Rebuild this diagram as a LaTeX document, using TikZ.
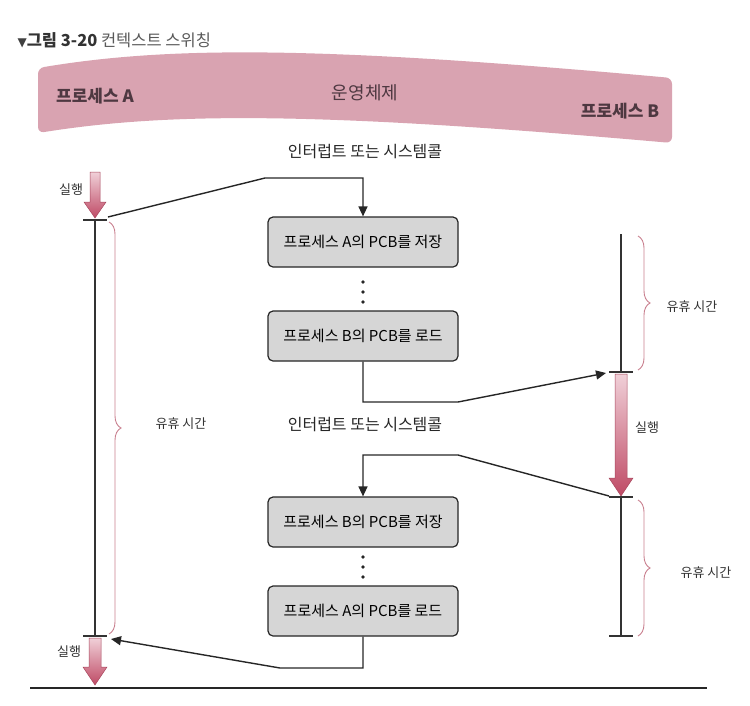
\documentclass[tikz,border=0pt]{standalone}
\usepackage{fontspec}
\setmainfont{Noto Sans CJK KR}
\newfontfamily\symfont{DejaVu Sans}
\usetikzlibrary{arrows.meta,decorations.pathreplacing,calc}
\definecolor{bannerpink}{HTML}{D9A3B1}
\definecolor{bannertext}{HTML}{4E3841}
\definecolor{bracepink}{HTML}{C9808F}
\definecolor{boxgray}{HTML}{D6D6D6}
\definecolor{arrowlight}{HTML}{F0D0D8}
\definecolor{arrowdark}{HTML}{BF4A65}
\definecolor{arrowedge}{HTML}{A8485E}
\definecolor{linegray}{HTML}{333333}
\begin{document}
\begin{tikzpicture}[x=1pt,y=-1pt,
  procbox/.style={draw=black!85, line width=1.2pt, fill=boxgray, rounded corners=5pt,
    minimum width=190pt, minimum height=50pt, inner sep=0pt, font=\fontsize{15}{17}\selectfont},
  conn/.style={line width=1.4pt, draw=black!85},
  connarrow/.style={conn, -{Triangle[width=9pt,length=10pt]}},
  timeline/.style={line width=2.6pt, draw=linegray},
  tickmark/.style={line width=1.6pt, draw=linegray},
  pbrace/.style={draw=bracepink, line width=0.9pt, decorate, decoration={brace, amplitude=12pt}},
  small/.style={font=\fontsize{13}{15}\selectfont, text=black!80},
  heading/.style={font=\fontsize{16}{18}\selectfont, text=black!85},
  bannerlabel/.style={font=\fontsize{17}{19}\selectfont\bfseries, text=bannertext},
  runarrow/.style={top color=arrowlight, bottom color=arrowdark, draw=arrowedge, line width=0.5pt},
  dot/.style={fill=black!85, circle, inner sep=0pt, minimum size=3.6pt},
]
\useasboundingbox (0,0) rectangle (750,705);

% title
\node[anchor=west, font=\fontsize{16.5}{18}\selectfont] (title) at (14,40)
  {{\symfont\fontsize{12}{12}\selectfont\color{black!75}▼}{\bfseries\color{black!80}그림 3-20}\ {\color{black!65}컨텍스트 스위칭}};

% banner
\fill[bannerpink, rounded corners=6pt] (38,68) .. controls (170,46) and (320,46) .. (672,78)
  -- (672,143) .. controls (320,112) and (170,112) .. (38,133) -- cycle;
\node[bannerlabel] (pA) at (95,96) {프로세스 A};
\node[font=\fontsize{18}{20}\selectfont, text=bannertext] (os) at (365,93) {운영체제};
\node[bannerlabel] (pB) at (620,111) {프로세스 B};

% headings
\node[heading] (int1) at (365,152) {인터럽트 또는 시스템콜};
\node[heading] (int2) at (365,425) {인터럽트 또는 시스템콜};

% boxes
\node[procbox] (b1) at (363,242) {프로세스 A의 PCB를 저장};
\node[procbox] (b2) at (363,336) {프로세스 B의 PCB를 로드};
\node[procbox] (b3) at (363,522) {프로세스 B의 PCB를 저장};
\node[procbox] (b4) at (363,611) {프로세스 A의 PCB를 로드};

\node[dot] (d1) at (363,282) {};
\node[dot] (d2) at (363,292) {};
\node[dot] (d3) at (363,302) {};
\node[dot] (d4) at (363,557) {};
\node[dot] (d5) at (363,567) {};
\node[dot] (d6) at (363,577) {};

% process A timeline
\coordinate (aTop) at (95,220);
\coordinate (aBot) at (95,636);
\shade[runarrow] (90,172) -- (100,172) -- (100,202) -- (106,202) -- (95,218) -- (84,202) -- (90,202) -- cycle;
\shade[runarrow] (89,638) -- (101,638) -- (101,667) -- (107,667) -- (95,685) -- (83,667) -- (89,667) -- cycle;
\draw[timeline] (aTop) -- (aBot);
\draw[tickmark] (83,220) -- (107,220);
\draw[tickmark] (83,636) -- (107,636);
\node[small] (runA1) at (71,190) {실행};
\node[small] (runA2) at (69,652) {실행};
\draw[pbrace] (109,222) -- (109,634);
\node[small] (idleA) at (181,424) {유휴 시간};

% process B timeline
\coordinate (bTop) at (621,234);
\coordinate (bMid1) at (621,372);
\coordinate (bMid2) at (621,497);
\coordinate (bBot) at (621,636);
\shade[runarrow] (615,374) -- (627,374) -- (627,478) -- (633,478) -- (621,496) -- (609,478) -- (615,478) -- cycle;
\draw[timeline] (bTop) -- (bMid1);
\draw[timeline] (bMid2) -- (bBot);
\draw[tickmark] (609,372) -- (633,372);
\draw[tickmark] (609,497) -- (633,497);
\draw[tickmark] (609,636) -- (633,636);
\draw[pbrace] (638,236) -- (638,370);
\draw[pbrace] (638,500) -- (638,636);
\node[small] (idleB1) at (692,307) {유휴 시간};
\node[small] (runB) at (647,428) {실행};
\node[small] (idleB2) at (706,573) {유휴 시간};

% connectors
\coordinate (aOut) at (108,217);
\coordinate (aIn) at (111,639);
\coordinate (bIn) at (606,373);
\coordinate (bOut) at (609,496);
\draw[connarrow] (aOut) -- (265,178) -| (b1.north);
\draw[connarrow] (b2.south) |- (458,402) -- (bIn);
\draw[connarrow] (bOut) -- (458,455) -| (b3.north);
\draw[connarrow] (b4.south) |- (280,668) -- (aIn);

% baseline
\draw[line width=1.5pt, black!85] (30,688) -- (707,688);
\end{tikzpicture}
\end{document}
